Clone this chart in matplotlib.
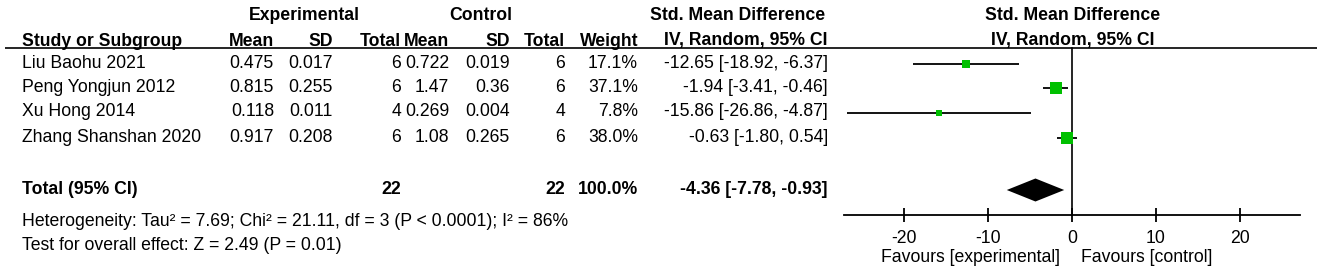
import matplotlib
matplotlib.use("Agg")
import matplotlib.pyplot as plt

plt.rcParams['font.family'] = ['Liberation Sans', 'DejaVu Sans']

# ---------------- data ----------------
studies = ["Liu Baohu 2021", "Peng Yongjun 2012", "Xu Hong 2014", "Zhang Shanshan 2020"]
exp_mean = ["0.475", "0.815", "0.118", "0.917"]
exp_sd = ["0.017", "0.255", "0.011", "0.208"]
exp_n = [6, 6, 4, 6]
ctl_mean = ["0.722", "1.47", "0.269", "1.08"]
ctl_sd = ["0.019", "0.36", "0.004", "0.265"]
ctl_n = [6, 6, 4, 6]
weights = [17.1, 37.1, 7.8, 38.0]
smd = [-12.65, -1.94, -15.86, -0.63]
ci_lo = [-18.92, -3.41, -26.86, -1.80]
ci_hi = [-6.37, -0.46, -4.87, 0.54]
total_exp_n = 22
total_ctl_n = 22
total_weight = 100.0
total_smd = -4.36
total_lo = -7.78
total_hi = -0.93
heterogeneity = "Heterogeneity: Tau\u00b2 = 7.69; Chi\u00b2 = 21.11, df = 3 (P < 0.0001); I\u00b2 = 86%"
overall = "Test for overall effect: Z = 2.49 (P = 0.01)"
xticks = [-20, -10, 0, 10, 20]
fav_left = "Favours [experimental]"
fav_right = "Favours [control]"

# ---------------- layout ----------------
W, H = 1325, 276
fig = plt.figure(figsize=(W / 100, H / 100), dpi=100)
ax = fig.add_axes([0, 0, 1, 1])
ax.set_xlim(0, W)
ax.set_ylim(H, 0)
ax.axis('off')

FS = 12.7
row_y = [63, 87, 112, 137]
y_h1, y_h2 = 16, 41
y_tot, y_het, y_test = 190, 221, 245

col_study = 22
col_em, col_esd, col_en = 274, 333, 401
col_cm, col_csd, col_cn = 449, 510, 565
col_w, col_ci = 638, 828


def t(x, y, s, ha='right', bold=False):
    ax.text(x, y, s, ha=ha, va='center', fontsize=FS,
            fontweight='bold' if bold else 'normal', color='black')

# headers
t(304, y_h1, "Experimental", ha='center', bold=True)
t(481, y_h1, "Control", ha='center', bold=True)
t(738, y_h1, "Std. Mean Difference", ha='center', bold=True)
t(1073, y_h1, "Std. Mean Difference", ha='center', bold=True)
t(col_study, y_h2, "Study or Subgroup", ha='left', bold=True)
t(col_em, y_h2, "Mean", bold=True)
t(col_esd, y_h2, "SD", bold=True)
t(col_en, y_h2, "Total", bold=True)
t(col_cm, y_h2, "Mean", bold=True)
t(col_csd, y_h2, "SD", bold=True)
t(col_cn, y_h2, "Total", bold=True)
t(col_w, y_h2, "Weight", bold=True)
t(col_ci, y_h2, "IV, Random, 95% CI", bold=True)
t(1073, y_h2, "IV, Random, 95% CI", ha='center', bold=True)
ax.plot([5, 1317], [47.5, 47.5], color='black', lw=1.2, solid_capstyle='butt')

for i, s in enumerate(studies):
    y = row_y[i]
    t(col_study, y, s, ha='left')
    t(col_em, y, exp_mean[i])
    t(col_esd, y, exp_sd[i])
    t(col_en, y, str(exp_n[i]))
    t(col_cm, y, ctl_mean[i])
    t(col_csd, y, ctl_sd[i])
    t(col_cn, y, str(ctl_n[i]))
    t(col_w, y, f"{weights[i]:.1f}%")
    t(col_ci, y, f"{smd[i]:.2f} [{ci_lo[i]:.2f}, {ci_hi[i]:.2f}]")

t(col_study, y_tot, "Total (95% CI)", ha='left', bold=True)
t(col_en, y_tot, str(total_exp_n), bold=True)
t(col_cn, y_tot, str(total_ctl_n), bold=True)
t(col_w, y_tot, f"{total_weight:.1f}%", bold=True)
t(col_ci, y_tot, f"{total_smd:.2f} [{total_lo:.2f}, {total_hi:.2f}]", bold=True)
t(col_study, y_het, heterogeneity, ha='left')
t(col_study, y_test, overall, ha='left')

# ---------------- forest axes ----------------
x0, x1 = 844, 1300
fa = fig.add_axes([x0 / W, 0, (x1 - x0) / W, 1])
fa.set_xlim(-27.2, 27.2)
fa.set_ylim(H, 0)
fa.patch.set_alpha(0)
for sp in ['top', 'left', 'right']:
    fa.spines[sp].set_visible(False)
fa.spines['bottom'].set_position(('data', 215))
fa.spines['bottom'].set_linewidth(1.3)
fa.set_yticks([])
fa.set_xticks(xticks)
fa.set_xticklabels([str(v) for v in xticks])
fa.tick_params(axis='x', direction='inout', length=10, width=1.3, labelsize=FS, pad=6)

fa.plot([0, 0], [48, 215], color='black', lw=1.2)
green = '#00C000'
for i in range(len(studies)):
    y = row_y[i] + 0.5
    fa.plot([ci_lo[i], ci_hi[i]], [y, y], color='black', lw=1.3, solid_capstyle='butt')
    side_px = 1.95 * weights[i] ** 0.5
    fa.plot([smd[i]], [y], marker='s', ms=side_px * 0.72, color=green,
            markeredgewidth=0, linestyle='none')

fa.fill([total_lo, total_smd, total_hi, total_smd],
        [y_tot, y_tot - 11.5, y_tot, y_tot + 11.5], color='black', lw=0)

fa.text(-1.4, 258, fav_left, ha='right', va='center', fontsize=FS)
fa.text(1.1, 258, fav_right, ha='left', va='center', fontsize=FS)

fig.savefig("out.png", dpi=100)
